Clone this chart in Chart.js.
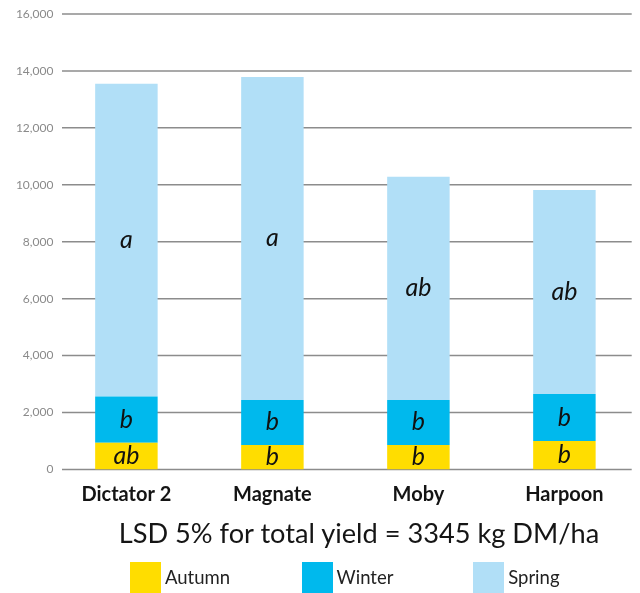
<!DOCTYPE html>
<html>
<head>
<meta charset="utf-8">
<script src="https://cdn.jsdelivr.net/npm/chart.js@4.4.1/dist/chart.umd.min.js"></script>
<style>
  body { margin: 0; background: #fff; font-family: Lato, sans-serif; }
  #wrap { position: relative; width: 640px; height: 593px; }
  #chart { position: absolute; left: 0; top: 0; }
  #note {
    position: absolute; left: 0; width: 718px; top: 517px;
    text-align: center; font-size: 27.2px; line-height: 1.2; color: #151515;
  }
  #legend { position: absolute; left: 130px; top: 562px; display: flex; }
  .item { width: 171.6px; display: flex; align-items: center; }
  .box { width: 31px; height: 31px; margin-right: 4px; }
  .item span { font-size: 18.5px; line-height: 1.2; color: #222; }
</style>
</head>
<body>
<div id="wrap">
  <canvas id="chart" width="640" height="593"></canvas>
  <div id="note">LSD 5% for total yield = 3345 kg DM/ha</div>
  <div id="legend"></div>
</div>
<script>
// Cultivars and seasonal yield (kg DM/ha)
const cultivars = ['Dictator 2', 'Magnate', 'Moby', 'Harpoon'];
const autumn = [940, 860, 860, 1000];
const winter = [1620, 1580, 1580, 1650];
const spring = [10990, 11350, 7840, 7170];

// Significance letters shown inside each segment
const autumnLetters = ['ab', 'b', 'b', 'b'];
const winterLetters = ['b', 'b', 'b', 'b'];
const springLetters = ['a', 'a', 'ab', 'ab'];

const yTicks = [0, 2000, 4000, 6000, 8000, 10000, 12000, 14000, 16000];

const letters = [autumnLetters, winterLetters, springLetters];

// Grid lines drawn a little inset from the category band, as in the original
const gridPlugin = {
  id: 'grid',
  beforeDatasetsDraw(chart) {
    const { ctx, chartArea, scales } = chart;
    ctx.save();
    ctx.strokeStyle = '#8c8c8c';
    ctx.lineWidth = 1.5;
    yTicks.forEach(v => {
      const y = scales.y.getPixelForValue(v);
      ctx.beginPath();
      ctx.moveTo(chartArea.left + 8.6, y);
      ctx.lineTo(chartArea.right - 5.7, y);
      ctx.stroke();
    });
    ctx.restore();
  }
};

const letterPlugin = {
  id: 'letters',
  afterDatasetsDraw(chart) {
    const { ctx } = chart;
    ctx.save();
    ctx.font = 'italic 25px Lato';
    ctx.fillStyle = '#111';
    ctx.textAlign = 'center';
    ctx.textBaseline = 'middle';
    chart.data.datasets.forEach((ds, i) => {
      chart.getDatasetMeta(i).data.forEach((bar, j) => {
        const p = bar.getProps(['x', 'y', 'base'], true);
        ctx.fillText(letters[i][j], p.x, (p.y + p.base) / 2);
      });
    });
    ctx.restore();
  }
};

const chart = new Chart(document.getElementById('chart'), {
  type: 'bar',
  data: {
    labels: cultivars,
    datasets: [
      { label: 'Autumn', data: autumn, backgroundColor: '#FFDD00' },
      { label: 'Winter', data: winter, backgroundColor: '#00B9ED' },
      { label: 'Spring', data: spring, backgroundColor: '#B1DFF7' }
    ]
  },
  options: {
    responsive: false,
    animation: false,
    layout: { padding: { top: 14, right: 2.6, bottom: 72.4, left: 0 } },
    datasets: { bar: { categoryPercentage: 1, barPercentage: 0.428 } },
    plugins: { legend: { display: false }, tooltip: { enabled: false } },
    scales: {
      x: {
        stacked: true,
        grid: { display: false, drawTicks: false },
        border: { display: false },
        ticks: {
          padding: 13.6,
          color: '#141414',
          font: { family: 'Lato', size: 20, weight: 'bold' }
        }
      },
      y: {
        stacked: true,
        min: 0,
        max: 16000,
        afterFit(scale) { scale.width = 53.4; },
        afterBuildTicks(scale) { scale.ticks = yTicks.map(v => ({ value: v })); },
        grid: { display: false, drawTicks: false },
        border: { display: false },
        ticks: {
          padding: 0,
          color: '#8a8a8a',
          font: { family: 'Lato', size: 12 },
          callback: v => v.toLocaleString('en-US')
        }
      }
    }
  },
  plugins: [gridPlugin, letterPlugin]
});

// Legend built from the datasets
const legend = document.getElementById('legend');
chart.data.datasets.forEach(ds => {
  const item = document.createElement('div');
  item.className = 'item';
  const box = document.createElement('div');
  box.className = 'box';
  box.style.background = ds.backgroundColor;
  const text = document.createElement('span');
  text.textContent = ds.label;
  item.appendChild(box);
  item.appendChild(text);
  legend.appendChild(item);
});
</script>
</body>
</html>
